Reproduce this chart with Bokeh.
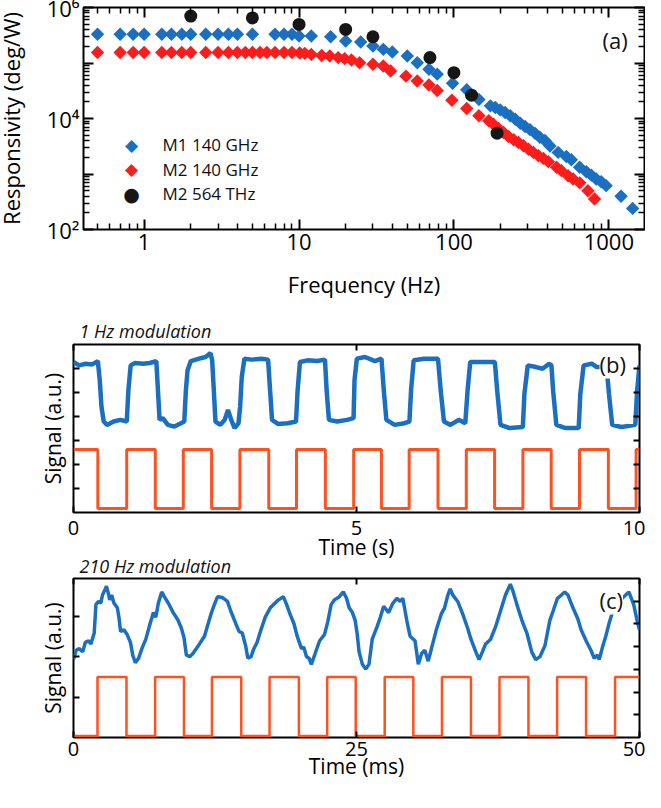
import numpy as np
from bokeh.plotting import figure
from bokeh.models import (LogAxis, LinearAxis, FixedTicker, CustomJSTickFormatter,
                          Label, Range1d, Title)
from bokeh.embed import file_html
from bokeh.resources import INLINE

FONT = "Open Sans"
SYM_FONT = "DejaVu Sans"
BLUE = "#1a6fc1"
RED = "#fc1c1c"
BLACK = "#161616"
TRACE_BLUE = "#1a6fc1"
TRACE_RED = "#ff5020"

# ---------------- panel (a): responsivity vs frequency ----------------
m1_freq = [0.5, 0.7, 0.85, 1.0, 1.3, 1.5, 1.75, 2.0, 2.5, 3.0, 3.5, 4.0, 5.0,
           7.0, 8.0, 9.0, 10, 12, 16, 20, 25, 30, 35, 40, 50, 58, 69, 78, 98,
           121, 145, 172, 185, 199, 214, 231, 249, 268, 288, 310, 334, 359, 387,
           417, 471, 532, 573, 648, 716, 771, 829, 893, 961, 1200, 1425]
m1_resp = [3.3e5, 3.3e5, 3.3e5, 3.3e5, 3.3e5, 3.3e5, 3.3e5, 3.3e5, 3.3e5, 3.3e5,
           3.3e5, 3.3e5, 3.3e5, 3.3e5, 3.3e5, 3.3e5, 3.06e5, 3.06e5, 2.97e5,
           2.49e5, 2.39e5, 2.02e5, 1.76e5, 1.58e5, 1.34e5, 1.01e5, 7.7e4, 6.3e4,
           4.3e4, 3.3e4, 2.2e4, 1.69e4, 1.58e4, 1.43e4, 1.28e4, 1.12e4, 9.7e3,
           8.2e3, 7.2e3, 6.3e3, 5.4e3, 4.6e3, 4.0e3, 3.2e3, 2.45e3, 2.07e3,
           1.81e3, 1.32e3, 1.10e3, 955, 813, 724, 617, 398, 240]

m2_freq = [0.5, 0.7, 0.85, 1.0, 1.3, 1.5, 1.75, 2.0, 2.5, 3.0, 3.5, 4.0, 4.5,
           5.0, 5.6, 6.2, 7.0, 8.0, 9.0, 10.1, 10.9, 12, 14, 15.8, 17.9, 19.7,
           21.8, 24.6, 30, 35, 39, 49, 58, 69, 78, 97, 121, 145, 168, 180, 194,
           209, 225, 243, 261, 281, 303, 326, 351, 378, 407, 460, 494, 546, 588,
           649, 733, 809]
m2_resp = [1.55e5, 1.55e5, 1.55e5, 1.55e5, 1.55e5, 1.55e5, 1.55e5, 1.55e5,
           1.55e5, 1.55e5, 1.55e5, 1.55e5, 1.55e5, 1.55e5, 1.55e5, 1.55e5,
           1.55e5, 1.55e5, 1.55e5, 1.52e5, 1.49e5, 1.43e5, 1.37e5, 1.34e5,
           1.25e5, 1.20e5, 1.13e5, 1.01e5, 9.5e4, 8.8e4, 7.2e4, 5.8e4, 4.75e4,
           4.0e4, 3.2e4, 2.14e4, 1.51e4, 1.12e4, 9.1e3, 7.9e3, 6.6e3, 5.6e3,
           4.75e3, 4.14e3, 3.7e3, 3.23e3, 2.8e3, 2.45e3, 2.14e3, 1.91e3, 1.67e3,
           1.32e3, 1.15e3, 933, 813, 692, 501, 355]

vis_freq = [2, 5, 10, 20, 30, 70, 100, 130, 190]
vis_resp = [7.0e5, 6.5e5, 4.95e5, 4.03e5, 2.97e5, 1.25e5, 6.7e4, 2.63e4, 5.45e3]

legend_labels = ["M1 140 GHz", "M2 140 GHz", "M2 564 THz"]

freq_tick_vals = [1, 10, 100, 1000]
freq_tick_labels = ["1", "10", "100", "1000"]
freq_minor = [m * d for d in (0.1, 1, 10, 100) for m in range(2, 10) if m * d > 0.41]
resp_tick_vals = [1e2, 1e3, 1e4, 1e5, 1e6]
resp_tick_labels = ["10\u00b2", "", "10\u2074", "", "10\u2076"]
resp_minor = [m * d for d in (1e2, 1e3, 1e4, 1e5) for m in range(2, 10)]

# ---------------- panel (b): 1 Hz modulation ----------------
b_time = [0.0, 0.099, 0.215, 0.331, 0.430, 0.464, 0.494, 0.535, 0.592, 0.708,
          0.825, 0.941, 0.970, 1.010, 1.086, 1.231, 1.347, 1.463, 1.492, 1.521,
          1.579, 1.667, 1.783, 1.899, 1.957, 1.986, 2.015, 2.073, 2.218, 2.334,
          2.421, 2.450, 2.479, 2.508, 2.595, 2.671, 2.729, 2.787, 2.845, 2.915,
          2.944, 2.973, 3.020, 3.148, 3.322, 3.438, 3.473, 3.508, 3.612, 3.786,
          3.931, 3.960, 4.001, 4.134, 4.309, 4.443, 4.472, 4.513, 4.658, 4.832,
          4.948, 4.965, 5.006, 5.151, 5.325, 5.441, 5.482, 5.528, 5.674, 5.848,
          5.935, 5.964, 6.010, 6.196, 6.440, 6.487, 6.545, 6.661, 6.806, 6.922,
          6.963, 7.009, 7.242, 7.445, 7.485, 7.544, 7.706, 7.939, 7.967, 8.026,
          8.171, 8.287, 8.403, 8.444, 8.473, 8.531, 8.693, 8.926, 8.955, 9.013,
          9.158, 9.245, 9.419, 9.460, 9.518, 9.681, 9.925, 9.959, 10.0]
b_signal = [6.27, 6.13, 6.20, 6.17, 6.31, 5.51, 4.41, 3.79, 3.65, 3.79,
            3.86, 3.79, 5.10, 6.13, 6.23, 6.20, 6.23, 6.31, 5.10, 3.86,
            3.93, 3.65, 3.58, 3.72, 3.79, 5.10, 5.93, 6.31, 6.41, 6.48,
            6.64, 6.34, 5.10, 3.79, 3.65, 3.86, 4.27, 3.86, 3.52, 3.72,
            4.41, 5.65, 6.41, 6.37, 6.41, 6.37, 5.10, 3.86, 3.69, 3.72,
            3.79, 5.10, 6.27, 6.34, 6.31, 6.37, 5.10, 3.86, 3.79, 3.86,
            3.93, 5.51, 6.41, 6.48, 6.31, 6.41, 5.10, 3.86, 3.65, 3.72,
            3.79, 5.10, 6.34, 6.41, 6.41, 5.10, 3.79, 3.65, 3.86, 3.72,
            5.10, 6.27, 6.27, 6.27, 5.10, 3.65, 3.52, 3.56, 4.96, 6.13,
            6.06, 5.99, 6.20, 6.13, 5.10, 3.65, 3.52, 3.52, 4.96, 6.13,
            6.20, 6.06, 6.06, 4.96, 3.65, 3.56, 3.65, 5.10, 6.13]
b_ref_time = [0.0, 0.43, 0.94, 1.445, 1.94, 2.44, 2.94, 3.45, 3.94, 4.45, 4.95,
              5.44, 5.93, 6.44, 6.94, 7.44, 7.94, 8.44, 8.94, 9.45, 9.94, 10.0]
b_ref_level = [2.62, 0.17, 2.62, 0.17, 2.62, 0.17, 2.62, 0.17, 2.62, 0.17, 2.62,
               0.17, 2.62, 0.17, 2.62, 0.17, 2.62, 0.17, 2.62, 0.17, 2.62, 2.62]
b_xticks = [0, 5, 10]
b_xtick_labels = ["0", "5", "10"]

# ---------------- panel (c): 210 Hz modulation ----------------
c_time = [0.00, 0.23, 0.52, 0.81, 1.05, 1.34, 1.54, 1.83, 1.98, 2.21, 2.41, 2.56,
          2.76, 2.91, 3.08, 3.20, 3.37, 3.57, 3.87, 4.01, 4.16, 4.45, 4.74, 5.03,
          5.23, 5.46, 5.75, 6.04, 6.39, 6.77, 7.06, 7.27, 7.50, 7.79, 8.02, 8.37,
          8.81, 9.24, 9.53, 9.76, 9.97, 10.26, 10.55, 10.84, 11.13, 11.57, 11.86,
          12.15, 12.44, 12.73, 13.16, 13.60, 13.89, 14.33, 14.62, 14.91, 15.20,
          15.40, 15.69, 15.93, 16.22, 16.56, 16.94, 17.38, 17.67, 18.11, 18.54,
          18.83, 19.12, 19.47, 19.76, 20.14, 20.34, 20.58, 20.81, 21.01, 21.30,
          21.74, 22.17, 22.46, 22.76, 23.05, 23.48, 23.83, 24.12, 24.35, 24.64,
          24.88, 25.05, 25.23, 25.52, 25.81, 26.10, 26.39, 26.82, 27.11, 27.40,
          27.84, 28.22, 28.57, 28.86, 29.09, 29.44, 29.73, 30.17, 30.46, 30.75,
          31.04, 31.33, 31.62, 32.05, 32.49, 32.78, 33.07, 33.28, 33.51, 33.94,
          34.38, 34.82, 35.11, 35.54, 35.83, 36.12, 36.41, 36.85, 37.29, 37.72,
          38.16, 38.59, 38.80, 39.17, 39.61, 40.05, 40.48, 40.83, 41.21, 41.65,
          42.08, 42.37, 42.75, 43.10, 43.39, 43.68, 44.12, 44.55, 44.84, 45.28,
          45.71, 46.00, 46.29, 46.44, 46.73, 47.02, 47.31, 47.60, 47.75, 48.40,
          49.06, 49.49, 49.78, 50.0]
c_signal = [3.43, 3.84, 3.91, 3.77, 4.19, 4.26, 4.12, 4.60, 5.85, 5.99, 5.92, 6.27,
            6.48, 6.66, 6.34, 6.06, 6.27, 5.92, 5.71, 5.30, 4.67, 4.74, 4.53, 4.19,
            3.63, 3.29, 3.49, 3.91, 4.33, 5.02, 5.50, 5.30, 5.92, 6.41, 6.20, 5.92,
            5.50, 5.16, 4.81, 4.40, 3.63, 3.56, 3.70, 3.91, 4.12, 4.46, 4.95,
            5.44, 5.85, 6.20, 6.16, 5.99, 5.57, 5.02, 4.67, 4.60, 4.05,
            3.49, 3.56, 3.91, 4.19, 4.74, 5.30, 5.71, 5.85, 6.06, 6.20,
            5.85, 5.44, 5.02, 4.46, 3.91, 3.98, 3.56, 3.49, 3.22, 3.63,
            4.26, 4.53, 5.09, 5.85, 6.06, 6.20, 6.41, 6.13, 5.71, 5.50,
            5.16, 4.60, 3.77, 3.22, 3.01, 3.22, 4.33, 4.88, 5.30, 5.78,
            5.50, 5.92, 6.13, 5.99, 6.13, 5.16, 4.46, 4.26, 3.22, 3.70,
            3.84, 3.36, 3.91, 4.74, 5.44, 5.71, 6.27, 6.54, 6.27, 5.99,
            5.44, 4.81, 4.33, 3.77, 3.43, 3.77, 4.12, 4.33, 4.88, 5.57,
            6.27, 6.75, 6.48, 5.85, 5.16, 4.60, 3.77, 3.43, 3.56, 4.05,
            5.16, 5.57, 6.13, 6.27, 6.41, 6.27, 5.71, 5.23, 4.74, 4.26,
            3.84, 3.49, 3.63, 3.43, 3.98, 4.46, 5.02, 5.50, 5.57, 6.10,
            6.41, 5.85, 5.16, 4.74]
c_ref_time = [0.0, 2.12, 4.68, 7.21, 9.76, 12.23, 14.82, 17.32, 19.91, 22.41, 24.93,
              27.49, 30.02, 32.55, 35.11, 37.63, 40.19, 42.72, 45.28, 47.84, 50.0]
c_ref_level = [0.07, 2.66, 0.07, 2.66, 0.07, 2.66, 0.07, 2.66, 0.07, 2.66, 0.07,
               2.66, 0.07, 2.66, 0.07, 2.66, 0.07, 2.66, 0.07, 2.66, 2.66]
c_xticks = [0, 25, 50]
c_xtick_labels = ["0", "25", "50"]

JS_LOOKUP = """
const i = vals.findIndex(v => Math.abs(v - tick) <= 1e-6 * Math.max(1, Math.abs(v)));
return i >= 0 ? labels[i] : "";
"""


def lookup(vals, labels):
    return CustomJSTickFormatter(args=dict(vals=vals, labels=labels), code=JS_LOOKUP)


def blank():
    return CustomJSTickFormatter(code="return '';")


def style_axis(ax, major=8, minor=0, label_size="20px", title_size="21px"):
    ax.axis_line_color = None
    ax.major_tick_in = major
    ax.major_tick_out = 0
    ax.minor_tick_in = minor
    ax.minor_tick_out = 0
    ax.major_tick_line_width = 2
    ax.minor_tick_line_width = 1.5
    ax.major_tick_line_color = "black"
    ax.minor_tick_line_color = "black"
    ax.major_label_text_font = FONT
    ax.major_label_text_font_size = label_size
    ax.major_label_text_color = "black"
    ax.axis_label_text_font = FONT
    ax.axis_label_text_font_size = title_size
    ax.axis_label_text_font_style = "normal"
    ax.axis_label_text_color = "black"


def mirror_axis(cls, ticker, major, minor=0, **kw):
    a = cls(ticker=ticker, formatter=blank(), **kw)
    style_axis(a, major=major, minor=minor)
    a.major_label_text_font_size = "0px"
    a.major_label_text_color = None
    a.major_label_standoff = 0
    a.axis_label_standoff = 0
    return a


def base_style(p):
    p.grid.visible = False
    p.outline_line_color = "black"
    p.outline_line_width = 2
    p.background_fill_color = "white"
    p.border_fill_color = None


# ---------- figure (a) ----------
pa = figure(width=653, height=325, x_axis_type="log", y_axis_type="log",
            x_range=Range1d(0.406, 1700), y_range=Range1d(1e2, 1e6),
            output_backend="svg", toolbar_location=None,
            min_border_left=87, min_border_right=1, min_border_top=15,
            min_border_bottom=88)
pa.margin = (-8, 0, 0, -8)
base_style(pa)
xt = FixedTicker(ticks=freq_tick_vals, minor_ticks=freq_minor)
yt = FixedTicker(ticks=resp_tick_vals, minor_ticks=resp_minor)
ax = pa.xaxis[0]
ax.ticker = xt
ax.formatter = lookup(freq_tick_vals, freq_tick_labels)
style_axis(ax, major=10, minor=6, label_size="22px", title_size="22px")
ax.axis_label = "Frequency (Hz)"
ax.major_label_standoff = 4
ax.axis_label_standoff = 16
ay = pa.yaxis[0]
ay.ticker = yt
ay.formatter = lookup(resp_tick_vals, resp_tick_labels)
style_axis(ay, major=10, minor=6, label_size="22px", title_size="22px")
ay.axis_label = "Responsivity (deg/W)"
ay.major_label_standoff = 4
ay.axis_label_standoff = 18
pa.add_layout(mirror_axis(LogAxis, xt, 10, 6), "above")
pa.add_layout(mirror_axis(LogAxis, yt, 10, 6), "right")

pa.scatter(m1_freq, m1_resp, marker="square", angle=np.pi / 4, size=9.5,
           fill_color=BLUE, line_color=None)
pa.scatter(m2_freq, m2_resp, marker="square", angle=np.pi / 4, size=9.5,
           fill_color=RED, line_color=None)
pa.scatter(vis_freq, vis_resp, marker="circle", size=13,
           fill_color=BLACK, line_color=None)

leg_syms = ["\u25c6", "\u25c6", "\u25cf"]
leg_cols = [BLUE, RED, BLACK]
leg_sizes = ["17px", "17px", "19px"]
for i, (lab, sym, col, fs) in enumerate(zip(legend_labels, leg_syms, leg_cols, leg_sizes)):
    yy = 85 - 24.5 * i
    pa.add_layout(Label(x=48, y=yy, x_units="screen", y_units="screen", text=sym,
                        text_color=col, text_font=SYM_FONT, text_font_size=fs,
                        text_align="center", text_baseline="middle"))
    pa.add_layout(Label(x=79, y=yy, x_units="screen", y_units="screen", text=lab,
                        text_color="#111111", text_font=FONT, text_font_size="17px",
                        text_align="left", text_baseline="middle"))
pa.add_layout(Label(x=519, y=190, x_units="screen", y_units="screen", text="(a)",
                    text_font=FONT, text_font_size="22px", text_color="#111111",
                    text_align="left", text_baseline="middle"))


def trace_panel(height, margin, xmax, xticks, xlabels, xtitle, btop, bbottom, title,
                title_std, left_ticks, left_max, tick_std, label_std):
    p = figure(width=645, height=height, x_range=Range1d(0, xmax), y_range=Range1d(0, 7),
               output_backend="svg", toolbar_location=None, y_axis_location=None,
               min_border_left=73, min_border_right=6, min_border_top=btop,
               min_border_bottom=bbottom)
    p.margin = margin
    base_style(p)
    p.title = Title(text=title, align="left", offset=6, standoff=title_std,
                    text_font=FONT, text_font_size="18px", text_font_style="italic",
                    text_color="#111111")
    xtk = FixedTicker(ticks=xticks, minor_ticks=[])
    bx = p.xaxis[0]
    bx.ticker = xtk
    bx.formatter = lookup(xticks, xlabels)
    style_axis(bx, major=6)
    bx.axis_label = xtitle
    bx.major_label_standoff = tick_std
    bx.axis_label_standoff = label_std
    p.add_layout(mirror_axis(LinearAxis, xtk, 6), "above")
    p.extra_y_ranges = {"left": Range1d(0, left_max)}
    ly = mirror_axis(LinearAxis, FixedTicker(ticks=left_ticks, minor_ticks=[]), 6,
                     y_range_name="left")
    ly.axis_label = "Signal (a.u.)"
    ly.axis_label_standoff = 7
    p.add_layout(ly, "left")
    p.add_layout(mirror_axis(LinearAxis, FixedTicker(ticks=[1, 2, 3, 4, 5, 6],
                                                     minor_ticks=[]), 6), "right")
    return p


pb = trace_panel(267, (-11, 0, 0, 0), 10, b_xticks, b_xtick_labels, "Time (s)", 38, 61,
                 "1 Hz modulation", 3, [1, 2, 3, 4, 5, 6], 7, 8, -5)
pb.line(b_time, b_signal, line_color=TRACE_BLUE, line_width=4.5)
pb.step(b_ref_time, b_ref_level, mode="after", line_color=TRACE_RED, line_width=3)
pb.add_layout(Label(x=526, y=149, x_units="screen", y_units="screen", text="(b)",
                    text_font=FONT, text_font_size="22px", text_color="#111111",
                    text_align="left", text_baseline="middle",
                    background_fill_color="white"))

pc = trace_panel(252, (-33, 0, 0, 0), 50, c_xticks, c_xtick_labels, "Time (ms)", 38, 55,
                 "210 Hz modulation", 2, [1, 2, 3], 3.95, 4, -7)
pc.line(c_time, c_signal, line_color=TRACE_BLUE, line_width=3.5)
pc.step(c_ref_time, c_ref_level, mode="after", line_color=TRACE_RED, line_width=2.5)
pc.add_layout(Label(x=526, y=138, x_units="screen", y_units="screen", text="(c)",
                    text_font=FONT, text_font_size="22px", text_color="#111111",
                    text_align="left", text_baseline="middle",
                    background_fill_color="white"))

open("out.html", "w").write(file_html([pa, pb, pc], INLINE))
